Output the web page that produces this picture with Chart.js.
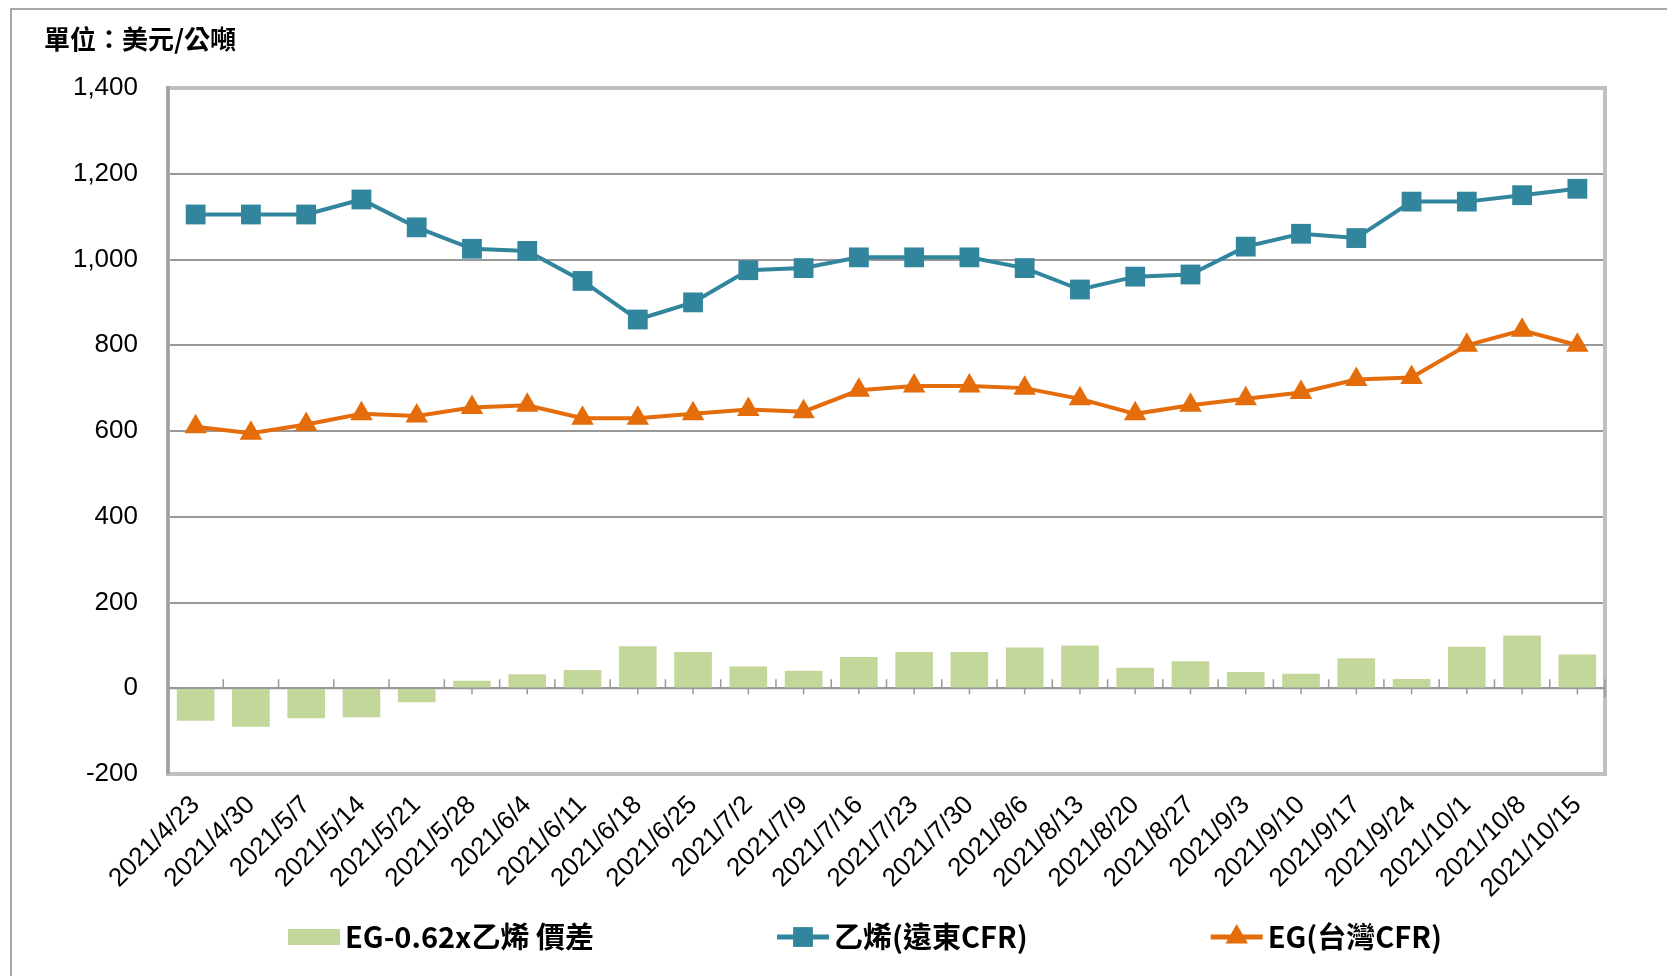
<!DOCTYPE html>
<html><head><meta charset="utf-8">
<script src="https://cdn.jsdelivr.net/npm/chart.js@4.4.0/dist/chart.umd.min.js"></script>
<style>html,body{margin:0;padding:0;background:#fff;}#wrap{width:1667px;height:976px;position:relative;}</style>
</head><body><div id="wrap"><canvas id="c" width="1667" height="976"></canvas></div>
<script>
const categories = ['2021/4/23','2021/4/30','2021/5/7','2021/5/14','2021/5/21','2021/5/28','2021/6/4','2021/6/11','2021/6/18','2021/6/25','2021/7/2','2021/7/9','2021/7/16','2021/7/23','2021/7/30','2021/8/6','2021/8/13','2021/8/20','2021/8/27','2021/9/3','2021/9/10','2021/9/17','2021/9/24','2021/10/1','2021/10/8','2021/10/15'];
const spread   = [-75,-89,-69,-67,-32,17,32,42,97,84,50,40,72,84,84,94,99,47,62,37,33,69,21,96,122,78];
const ethylene = [1105,1105,1105,1140,1075,1025,1020,950,860,900,975,980,1005,1005,1005,980,930,960,965,1030,1060,1050,1135,1135,1150,1165];
const egTaiwan = [610,595,615,640,635,655,660,630,630,640,650,645,695,705,705,700,675,640,660,675,690,720,725,800,835,800];
const yTicks = [-200,0,200,400,600,800,1000,1200,1400];
const unitTitle = '單位：美元/公噸';
const seriesNames = ['EG-0.62x乙烯 價差','乙烯(遠東CFR)','EG(台灣CFR)'];

const GREEN='#c4d79b', TEAL='#31859c', ORANGE='#e46c0a';

function seg(ctx,x1,y1,x2,y2){ctx.beginPath();ctx.moveTo(x1,y1);ctx.lineTo(x2,y2);ctx.stroke();}

const decor = {
  id:'decor',
  beforeDraw(chart){
    const ctx=chart.ctx; ctx.save();
    ctx.fillStyle='#fff'; ctx.fillRect(0,0,chart.width,chart.height);
    ctx.strokeStyle='#8c8c8c'; ctx.lineWidth=1.5;
    ctx.beginPath(); ctx.moveTo(11,chart.height); ctx.lineTo(11,9); ctx.lineTo(chart.width,9); ctx.stroke();
    ctx.fillStyle='#000'; ctx.font='bold 26px "Noto Sans CJK TC"'; ctx.textBaseline='middle'; ctx.textAlign='left';
    ctx.fillText(unitTitle,44,39);
    ctx.restore();
  },
  beforeDatasetsDraw(chart){
    const {ctx, chartArea:a, scales:{x,y}} = chart; ctx.save();
    ctx.strokeStyle='#bfbfbf'; ctx.lineWidth=4;
    ctx.strokeRect(a.left, a.top, a.right-a.left, a.bottom-a.top);
    ctx.strokeStyle='#a0a0a0'; ctx.lineWidth=3; seg(ctx,a.left,a.top-2,a.left,a.bottom);
    const y0=y.getPixelForValue(0);
    ctx.strokeStyle='#999'; ctx.lineWidth=2; seg(ctx,a.left,y0,a.right,y0);
    const step=x.getPixelForValue(1)-x.getPixelForValue(0);
    ctx.lineWidth=1.5;
    const n=categories.length;
    for(let i=0;i<n;i++){
      const cx=x.getPixelForValue(i);
      seg(ctx,cx,y0,cx,y0+6);
      const bx=cx+step/2;
      seg(ctx,bx,y0-9,bx,y0+(i===n-1?9:0));
    }
    ctx.restore();
  },
  afterDraw(chart){
    const ctx=chart.ctx; ctx.save();
    ctx.font='bold 29px "Noto Sans CJK TC"'; ctx.textBaseline='middle'; ctx.textAlign='left';
    let lx=288; const ly=937;
    chart.data.datasets.forEach((ds)=>{
      if(ds.type==='bar'){
        ctx.fillStyle=ds.backgroundColor; ctx.fillRect(lx,ly-8,52,16);
      } else {
        ctx.strokeStyle=ds.borderColor; ctx.lineWidth=5; seg(ctx,lx,ly,lx+52,ly);
        ctx.fillStyle=ds.pointBackgroundColor; ctx.strokeStyle=ds.pointBackgroundColor;
        Chart.helpers.drawPoint(ctx,{pointStyle:ds.pointStyle,radius:ds.pointRadius,rotation:0,borderWidth:0},lx+26,ly);
      }
      ctx.fillStyle='#000';
      ctx.fillText(ds.label,lx+57,ly);
      lx += 57 + ctx.measureText(ds.label).width + 183;
    });
    ctx.restore();
  }
};

new Chart(document.getElementById('c'),{
  data:{
    labels:categories,
    datasets:[
      {type:'bar',label:seriesNames[0],data:spread,backgroundColor:GREEN,borderWidth:0,barThickness:37,order:3},
      {type:'line',label:seriesNames[1],data:ethylene,borderColor:TEAL,borderWidth:4,pointStyle:'rect',pointRadius:14,pointBackgroundColor:TEAL,pointBorderColor:TEAL,pointBorderWidth:0,tension:0,order:2},
      {type:'line',label:seriesNames[2],data:egTaiwan,borderColor:ORANGE,borderWidth:4,pointStyle:'triangle',pointRadius:13,pointBackgroundColor:ORANGE,pointBorderColor:ORANGE,pointBorderWidth:0,tension:0,order:1}
    ]
  },
  options:{
    responsive:false, animation:false, devicePixelRatio:1,
    layout:{padding:{left:0,right:62,top:88,bottom:0}},
    plugins:{legend:{display:false},tooltip:{enabled:false}},
    scales:{
      x:{
        offset:true,
        grid:{display:false},
        border:{display:false},
        afterFit(s){s.height=202;},
        ticks:{autoSkip:false,minRotation:45,maxRotation:45,padding:8,color:'#000',font:{family:'"Liberation Sans", Arial',size:26}}
      },
      y:{
        min:-200,max:1400,
        afterBuildTicks(s){s.ticks=yTicks.map(v=>({value:v}));},
        afterFit(s){s.width=168;},
        grid:{color:'#999',lineWidth:2,drawTicks:false},
        border:{display:false},
        ticks:{padding:30,color:'#000',font:{family:'"Liberation Sans", Arial',size:26},callback:v=>Number(v).toLocaleString('en-US')}
      }
    }
  },
  plugins:[decor]
});
</script></body></html>
